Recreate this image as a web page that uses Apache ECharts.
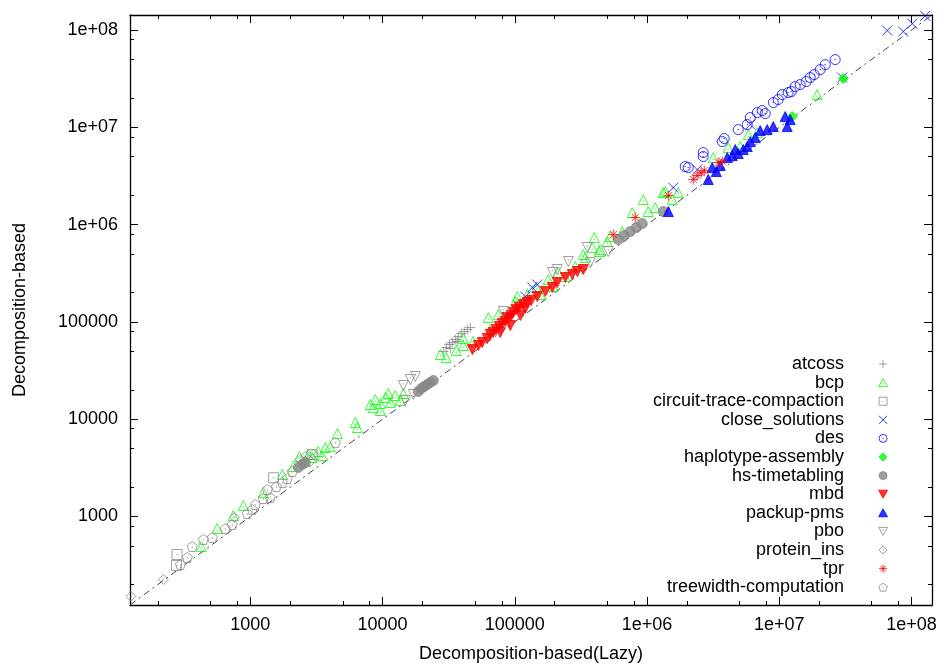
<!DOCTYPE html>
<html>
<head>
<meta charset="utf-8">
<script src="https://cdn.jsdelivr.net/npm/echarts@6/dist/echarts.min.js"></script>
<style>
  html, body { margin: 0; padding: 0; background: #fff; }
  #chart { width: 946px; height: 668px; }
</style>
</head>
<body>
<div id="chart"></div>
<script>
// values: [lazy, decomposition-based]
const atcoss = [
  [28800, 49660], [30340, 54580], [31990, 58610], [33670, 61400], [35480, 65920],
  [37410, 70790], [39370, 76030], [41500, 79620], [43750, 83560], [46130, 87500],
  [32510, 53330], [36730, 62950]
];
const bcp = [
  [426, 492], [562, 753], [743, 1024], [885, 1297], [1253, 1766], [1746, 2704],
  [2113, 3266], [2350, 4140], [2606, 3675], [2943, 4037], [3266, 4656], [3690, 5117],
  [3500, 4236], [4027, 5236], [2747, 4335], [4549, 7129], [6223, 9250], [6442, 8222],
  [8072, 14160], [8810, 15940], [9620, 14500], [10500, 16710], [11460, 14860],
  [12480, 17530], [13620, 15570], [11050, 18370], [9620, 12280], [8510, 13180],
  [14350, 18370], [27350, 46240], [30340, 43050], [36130, 50820], [40830, 67490],
  [40830, 57180], [48530, 62950], [63100, 111000], [65310, 83560], [74990, 119100],
  [100900, 162200], [104400, 182400], [124400, 191400], [156000, 191400],
  [145500, 225900], [179200, 272900], [195400, 231200], [213300, 322100],
  [241000, 293100], [286500, 370700], [329600, 493000], [385500, 582100],
  [399000, 736200], [435500, 529500], [341200, 459200], [442600, 554600],
  [500000, 669900], [527200, 755100], [650100, 849200], [772700, 1330000],
  [937100, 1811000], [1021000, 1365000], [1153000, 1500000], [1327000, 2138000],
  [1552000, 1811000], [1722000, 2138000], [1374000, 2188000], [3170000, 4898000],
  [4111000, 6194000], [5070000, 6353000], [5834000, 8433000], [6823000, 8851000],
  [19370000, 21730000]
];
const circuitTrace = [[279, 407], [276, 313], [1500, 2500], [2930, 4335]];
const closeSolutions = [
  [120000, 182400], [135500, 225900], [147900, 242100], [1578000, 2404000],
  [2399000, 3681000], [6039000, 10690000], [29920000, 32510000],
  [65610000, 98860000], [86700000, 96600000], [101400000, 116700000],
  [127100000, 140000000]
];
const des = [
  [1945000, 3954000], [2051000, 3864000], [2661000, 5508000], [2661000, 5012000],
  [3707000, 7145000], [3837000, 7674000], [4898000, 9484000], [5728000, 10690000],
  [6039000, 12620000], [6823000, 14190000], [7430000, 14890000], [7834000, 13870000],
  [9016000, 17990000], [9819000, 19320000], [10540000, 21730000], [11690000, 22800000],
  [13210000, 26240000], [14410000, 27540000], [16000000, 29580000], [17140000, 32510000],
  [18390000, 34910000], [20420000, 39260000], [22280000, 44150000], [26490000, 49770000],
  [12330000, 23330000]
];
const haplotype = [[12530000, 12910000], [30480000, 31770000]];
const hsTimetabling = [
  [18620, 19280], [19630, 20700], [20700, 21680], [21780, 22750], [22960, 23820],
  [24210, 25000], [2307, 3190], [2472, 3420], [2606, 3589], [606700, 703100],
  [673000, 772700], [746400, 849200], [829900, 933300], [920400, 1026000],
  [1327000, 1365000]
];
const mbd = [
  [47730, 52000], [52970, 57180], [56750, 61400], [61940, 67490], [65310, 74300],
  [68710, 77800], [72440, 83560], [76380, 89740], [80350, 96380], [84720, 100900],
  [89330, 108400], [94190, 116400], [97500, 125000], [102600, 134000], [108100, 140600],
  [115900, 151000], [124400, 158100], [133400, 166000], [147900, 182400],
  [170200, 205100], [192300, 225900], [209400, 254100], [241000, 285800],
  [272300, 306900], [297200, 329600], [329600, 345900], [77620, 77800],
  [92470, 91830], [110200, 116400], [86300, 110900], [120000, 137400]
];
const packupPms = [
  [1449000, 1365000], [2904000, 2911000], [3112000, 3864000], [3342000, 3516000],
  [3581000, 4055000], [4046000, 4898000], [4416000, 5129000], [4898000, 5383000],
  [5346000, 5916000], [5728000, 6353000], [6039000, 7145000], [6592000, 7852000],
  [7178000, 9268000], [8110000, 9484000], [9016000, 10190000], [11090000, 12910000],
  [11480000, 10190000], [12100000, 12020000], [4645000, 5916000]
];
const pbo = [
  [14350, 22180], [16220, 25590], [17700, 27480], [17100, 17950], [14860, 15570],
  [81850, 127900], [192300, 322100], [209400, 345900], [254100, 417800],
  [353200, 582100], [509300, 529500], [372400, 407400]
];
const proteinIns = [
  [125, 151], [220, 225], [757, 977], [2388, 3855], [2606, 4140], [2844, 3675], [2994, 4335]
];
const tpr = [
  [555900, 790700], [814700, 1183000], [1449000, 1991000], [2239000, 2911000],
  [2399000, 3199000], [2570000, 3428000], [2710000, 3597000], [3459000, 4345000],
  [3707000, 4457000]
];
const treewidth = [
  [296, 321], [334, 379], [364, 492], [441, 581], [516, 608], [647, 753], [731, 827],
  [949, 1074], [1035, 1180], [1091, 1328], [1253, 1531], [1416, 1567], [1345, 1893],
  [1573, 2032], [1746, 2236], [1905, 2458], [2078, 2899], [4395, 5768]
];
const axisMin = 123;
const axisMax = 1.43e8;
const majorTicks = [1000, 10000, 100000, 1e6, 1e7, 1e8];
const minorTicks = [
  200, 500, 800, 2000, 5000, 8000, 20000, 50000, 80000,
  2e5, 5e5, 8e5, 2e6, 5e6, 8e6, 2e7, 5e7, 8e7
];

const GRAY = '#888888', GREEN = '#00ff00', BLUE = '#0000ff', RED = '#ff0000';
const NONE = 'rgba(0,0,0,0)';
const dot = 'M4.6,5L5,4.6L5.4,5L5,5.4Z';
const SYM = {
  plus: 'path://M5,0L5,10M0,5L10,5',
  cross: 'path://M0,0L10,10M10,0L0,10',
  star: 'path://M5,0L5,10M0,5L10,5M1.5,1.5L8.5,8.5M8.5,1.5L1.5,8.5',
  square: 'path://M0,0L10,0L10,10L0,10Z' + dot,
  circle: 'path://M10,5A5,5,0,1,1,0,5A5,5,0,1,1,10,5Z' + dot,
  triUp: 'path://M5,0L10,9L0,9Z' + 'M4.6,6L5,5.6L5.4,6L5,6.4Z',
  triDown: 'path://M0,0L10,0L5,9Z' + 'M4.6,3L5,2.6L5.4,3L5,3.4Z',
  diamond: 'path://M5,0L10,5L5,10L0,5Z' + dot,
  pentagon: 'path://M5,0L9.76,3.45L7.94,9.05L2.06,9.05L0.24,3.45Z' + dot,
  fDiamond: 'path://M5,0L10,5L5,10L0,5Z',
  fTriUp: 'path://M5,0L10,9L0,9Z',
  fTriDown: 'path://M0,0L10,0L5,9Z'
};

function pts(name, data, symbol, color, filled, size) {
  return {
    name: name,
    type: 'scatter',
    data: data,
    symbol: symbol,
    symbolSize: size || 10,
    itemStyle: { color: filled ? color : NONE, borderColor: color, borderWidth: 1 },
    emphasis: { disabled: true }
  };
}

const chart = echarts.init(document.getElementById('chart'), null, { renderer: 'canvas' });
const FONT = 'Liberation Sans';
const fmt = function (v) {
  const e = Math.round(Math.log10(v));
  if (Math.abs(v - Math.pow(10, e)) > 1e-6 * v) return '';
  return e >= 6 ? '1e+0' + e : String(v);
};
const lineCommon = { show: true, lineStyle: { color: '#000', width: 1.3 } };
const majorTick = { show: true, inside: true, length: 8, customValues: majorTicks,
  lineStyle: { color: '#000', width: 1 } };
const minorTick = { show: true, inside: true, length: 4, customValues: minorTicks,
  lineStyle: { color: '#000', width: 1 } };

// mirrored frame axes and minor-tick axes share the same scale
function frameAxis(position, tick, showLine) {
  return {
    type: 'log', logBase: 10, min: axisMin, max: axisMax, position: position,
    axisLine: showLine ? lineCommon : { show: false },
    axisTick: tick, axisLabel: { show: false }, splitLine: { show: false }
  };
}

const series = [
  {
    name: 'diag', type: 'line', data: [[axisMin, axisMin], [axisMax, axisMax]],
    showSymbol: false, silent: true, z: 1,
    lineStyle: { color: '#444', width: 1, type: [7, 4, 2, 4] }
  },
  pts('atcoss', atcoss, SYM.plus, GRAY, false),
  pts('bcp', bcp, SYM.triUp, GREEN, false),
  pts('circuit-trace-compaction', circuitTrace, SYM.square, GRAY, false),
  pts('close_solutions', closeSolutions, SYM.cross, BLUE, false),
  pts('des', des, SYM.circle, BLUE, false),
  pts('haplotype-assembly', haplotype, SYM.fDiamond, GREEN, true),
  pts('hs-timetabling', hsTimetabling, 'circle', GRAY, true),
  pts('mbd', mbd, SYM.fTriDown, RED, true),
  pts('packup-pms', packupPms, SYM.fTriUp, BLUE, true),
  pts('pbo', pbo, SYM.triDown, GRAY, false),
  pts('protein_ins', proteinIns, SYM.diamond, GRAY, false),
  pts('tpr', tpr, SYM.star, RED, false),
  pts('treewidth-computation', treewidth, SYM.pentagon, GRAY, false)
];

chart.setOption({
  animation: false,
  backgroundColor: '#fff',
  textStyle: { fontFamily: FONT },
  grid: { left: 130, right: 14, top: 15, bottom: 63 },
  legend: {
    orient: 'vertical',
    align: 'right',
    right: 58,
    top: 355,
    padding: 0,
    itemGap: 0.6,
    itemWidth: 68,
    itemHeight: 8,
    selectedMode: false,
    data: series.slice(1).map(function (s) { return s.name; }),
    itemStyle: { borderWidth: 1 },
    textStyle: { fontFamily: FONT, fontSize: 18, color: '#000', lineHeight: 18 }
  },
  xAxis: [
    {
      type: 'log', logBase: 10, min: axisMin, max: axisMax, position: 'bottom',
      name: 'Decomposition-based(Lazy)', nameLocation: 'middle', nameGap: 40,
      nameTextStyle: { fontFamily: FONT, fontSize: 18, color: '#000' },
      axisLine: lineCommon, axisTick: majorTick,
      axisLabel: { formatter: fmt, fontFamily: FONT, fontSize: 18, color: '#000', margin: 11,
        customValues: majorTicks },
      splitLine: { show: false }
    },
    frameAxis('top', majorTick, true),
    frameAxis('bottom', minorTick, false),
    frameAxis('top', minorTick, false)
  ],
  yAxis: [
    {
      type: 'log', logBase: 10, min: axisMin, max: axisMax, position: 'left',
      name: 'Decomposition-based', nameLocation: 'middle', nameGap: 101,
      nameTextStyle: { fontFamily: FONT, fontSize: 18, color: '#000' },
      axisLine: lineCommon, axisTick: majorTick,
      axisLabel: { formatter: fmt, fontFamily: FONT, fontSize: 18, color: '#000', margin: 12,
        customValues: majorTicks },
      splitLine: { show: false }
    },
    frameAxis('right', majorTick, true),
    frameAxis('left', minorTick, false),
    frameAxis('right', minorTick, false)
  ],
  series: series
});
</script>
</body>
</html>
